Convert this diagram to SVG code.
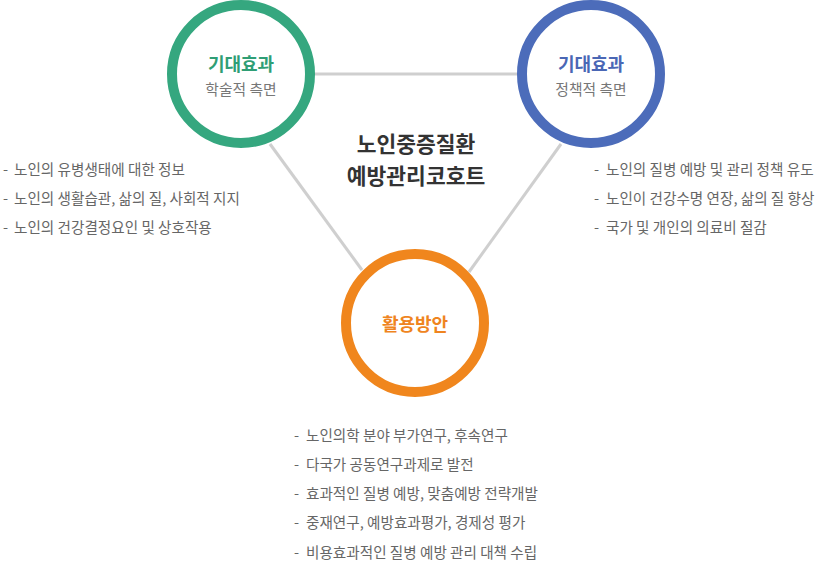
<svg xmlns="http://www.w3.org/2000/svg" width="815" height="565" viewBox="0 0 815 565">
<style>
text{font-family:"Noto Sans CJK KR","Noto Sans",sans-serif}
.ring{fill:#fff;stroke-width:10}
.h{font-size:18px;font-weight:bold;text-anchor:middle}
.sub{font-size:14.8px;fill:#777;text-anchor:middle}
.li{font-size:14.6px;fill:#666}
.c{font-size:21.5px;font-weight:bold;fill:#333;text-anchor:middle}
.conn{stroke:#cfcfcf;stroke-width:3;fill:none}
</style>
<rect width="815" height="565" fill="#fff"/>
<g id="connectors">
<line class="conn" x1="314" y1="74" x2="517" y2="74"/>
<line class="conn" x1="270" y1="144" x2="362" y2="270"/>
<line class="conn" x1="561" y1="144" x2="469" y2="272"/>
</g>
<g id="node-academic">
<circle class="ring" cx="241" cy="74" r="69" stroke="#35a77f"/>
<text class="h" x="241" y="71" fill="#2f9e75">기대효과</text>
<text class="sub" x="241" y="95">학술적 측면</text>
</g>
<g id="node-policy">
<circle class="ring" cx="591" cy="74" r="69" stroke="#4c6cba"/>
<text class="h" x="591" y="71" fill="#4a67b5">기대효과</text>
<text class="sub" x="591" y="95">정책적 측면</text>
</g>
<g id="node-use">
<circle class="ring" cx="415" cy="323" r="69" stroke="#f0861d"/>
<text class="h" x="415" y="331" fill="#ef8420">활용방안</text>
</g>
<g id="center-title">
<text class="c" x="416" y="152">노인중증질환</text>
<text class="c" x="416" y="184">예방관리코호트</text>
</g>
<g id="list-left">
<text class="li" x="3" y="175">-</text><text class="li" x="14" y="175">노인의 유병생태에 대한 정보</text>
<text class="li" x="3" y="204">-</text><text class="li" x="14" y="204">노인의 생활습관, 삶의 질, 사회적 지지</text>
<text class="li" x="3" y="233">-</text><text class="li" x="14" y="233">노인의 건강결정요인 및 상호작용</text>
</g>
<g id="list-right">
<text class="li" x="594" y="175">-</text><text class="li" x="606" y="175">노인의 질병 예방 및 관리 정책 유도</text>
<text class="li" x="594" y="204">-</text><text class="li" x="606" y="204">노인이 건강수명 연장, 삶의 질 향상</text>
<text class="li" x="594" y="233">-</text><text class="li" x="606" y="233">국가 및 개인의 의료비 절감</text>
</g>
<g id="list-bottom">
<text class="li" x="294" y="441">-</text><text class="li" x="306" y="441">노인의학 분야 부가연구, 후속연구</text>
<text class="li" x="294" y="470">-</text><text class="li" x="306" y="470">다국가 공동연구과제로 발전</text>
<text class="li" x="294" y="499">-</text><text class="li" x="306" y="499">효과적인 질병 예방, 맞춤예방 전략개발</text>
<text class="li" x="294" y="528">-</text><text class="li" x="306" y="528">중재연구, 예방효과평가, 경제성 평가</text>
<text class="li" x="294" y="558">-</text><text class="li" x="306" y="558">비용효과적인 질병 예방 관리 대책 수립</text>
</g>
</svg>
